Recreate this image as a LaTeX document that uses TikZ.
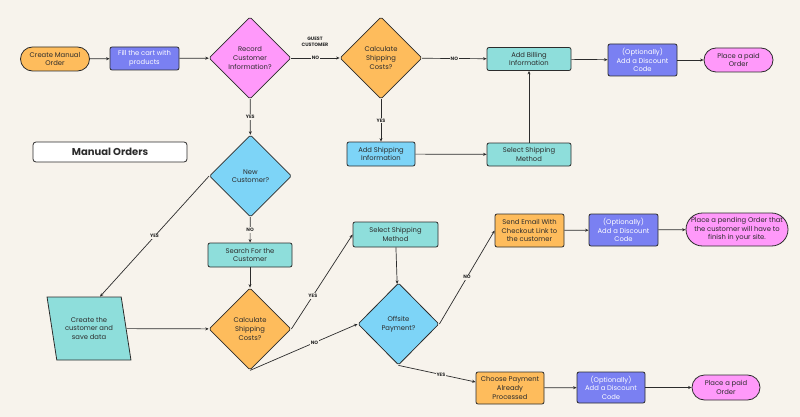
\documentclass[tikz,border=0pt]{standalone}
\usepackage{fontspec}
\setmainfont{Poppins}
\usetikzlibrary{shapes.geometric,arrows.meta}
\definecolor{cream}{RGB}{247,243,236}
\definecolor{ink}{RGB}{44,44,44}
\definecolor{tangerine}{RGB}{254,188,92}
\definecolor{periwinkle}{RGB}{122,128,242}
\definecolor{orchid}{RGB}{255,153,250}
\definecolor{aqua}{RGB}{142,222,219}
\definecolor{sky}{RGB}{125,212,247}
\tikzset{
  box/.style={draw=ink, line width=0.8pt, rounded corners=2pt, inner sep=0pt, align=center, text=ink,
    font=\fontsize{6.8}{8.6}\selectfont},
  decision/.style={box, diamond, rounded corners=1.5pt, minimum width=82pt, minimum height=82pt},
  terminal/.style={box, fill=orchid, minimum width=69pt, minimum height=24pt, rounded corners=12pt},
  discount/.style={box, fill=periwinkle, text=white, minimum width=69pt, minimum height=32pt},
  flow/.style={draw=ink, line width=0.7pt, -{Stealth[length=3.5pt,width=3pt]}},
  tag/.style={fill=cream, inner sep=1pt, text=ink, font=\fontsize{4.8}{5.6}\selectfont\bfseries}
}
\newcommand{\drawflow}{\draw[flow]}

\begin{document}
\begin{tikzpicture}[x=1pt,y=-1pt]
\useasboundingbox (0,0) rectangle (800,417);
\fill[cream] (0,0) rectangle (800,417);
\node[box, fill=white, minimum width=154pt, minimum height=20pt, rounded corners=3pt, font=\fontsize{10}{12}\selectfont\bfseries] (title) at (110,152) {Manual Orders};
\node[box, fill=tangerine, minimum width=69pt, minimum height=24pt, rounded corners=12pt] (start) at (55,59) {Create Manual\\Order};
\node[box, fill=periwinkle, text=white, minimum width=69pt, minimum height=23pt] (cart) at (144.5,58.5) {Fill the cart with\\products};
\node[decision, fill=orchid] (record) at (250,58) {Record\\Customer\\Information?};
\node[decision, fill=tangerine] (calcA) at (381,58) {Calculate\\Shipping\\Costs?};
\node[box, fill=aqua, minimum width=84pt, minimum height=23pt] (billing) at (529,59) {Add Billing\\Information};
\node[discount] (discA) at (642.5,60) {(Optionally)\\Add a Discount\\Code};
\node[terminal] (paidA) at (738.5,60) {Place a paid\\Order};
\node[box, fill=sky, minimum width=68pt, minimum height=24pt] (addShip) at (381,154) {Add Shipping\\Information};
\node[box, fill=aqua, minimum width=84pt, minimum height=23pt] (selA) at (529,154.5) {Select Shipping\\Method};
\node[decision, fill=sky] (newc) at (250.5,176) {New\\Customer?};
\node[box, fill=aqua, minimum width=84pt, minimum height=24pt] (search) at (250,255) {Search For the\\Customer};
\node[box, trapezium, trapezium left angle=108, trapezium right angle=72, trapezium stretches=true, rounded corners=0pt,
  fill=aqua, minimum width=84pt, minimum height=63pt] (create) at (89,328.5) {Create the\\customer and\\save data};
\node[decision, fill=tangerine] (calcB) at (250,329) {Calculate\\Shipping\\Costs?};
\node[box, fill=aqua, minimum width=85pt, minimum height=25pt] (selB) at (395.5,234.5) {Select Shipping\\Method};
\node[decision, fill=sky, minimum width=81pt] (offsite) at (398.5,324) {Offsite\\Payment?};
\node[box, fill=tangerine, minimum width=69pt, minimum height=33pt] (email) at (529.5,230.5) {Send Email With\\Checkout Link to\\the customer};
\node[discount] (discB) at (623.5,230) {(Optionally)\\Add a Discount\\Code};
\node[terminal, minimum width=102pt, minimum height=33pt, rounded corners=16.5pt] (pending) at (737,229.5) {Place a pending Order that\\the customer will have to\\finish in your site.};
\node[box, fill=tangerine, minimum width=68pt, minimum height=32pt] (choose) at (510,388) {Choose Payment\\Already\\Processed};
\node[discount, minimum width=68pt, minimum height=31pt] (discC) at (611,387.5) {(Optionally)\\Add a Discount\\Code};
\node[terminal, minimum width=68pt, minimum height=25pt, rounded corners=12.5pt] (paidB) at (726,387.5) {Place a paid\\Order};
\node[tag, fill=none, align=center] (guest) at (315,42) {GUEST\\CUSTOMER};
\drawflow (start) -- (cart);
\drawflow (cart) -- (record);
\drawflow (record) -- node[tag]{NO} (calcA);
\drawflow (calcA) -- node[tag]{NO} (billing);
\drawflow (billing) -- (discA);
\drawflow (discA) -- (paidA);
\drawflow (calcA) -- node[tag]{YES} (addShip);
\drawflow (addShip) -- (selA);
\drawflow (selA) -- (billing);
\drawflow (record) -- node[tag]{YES} (newc);
\drawflow (newc) -- node[tag]{NO} (search);
\drawflow (newc.west) -- node[tag]{YES} ([xshift=11pt]create.north);
\drawflow (search) -- (calcB);
\drawflow (create) -- (calcB);
\drawflow (calcB.east) -- node[tag,pos=.35]{YES} (selB.west);
\drawflow (calcB.south) -- node[tag,pos=.6]{NO} (offsite.west);
\drawflow (selB) -- (offsite);
\drawflow (offsite.east) -- node[tag]{NO} (email.west);
\drawflow (offsite.south) -- node[tag,pos=.55]{YES} ([yshift=6pt]choose.west);
\drawflow (email) -- (discB);
\drawflow (discB) -- (pending);
\drawflow (choose) -- (discC);
\drawflow (discC) -- (paidB);
\end{tikzpicture}
\end{document}
